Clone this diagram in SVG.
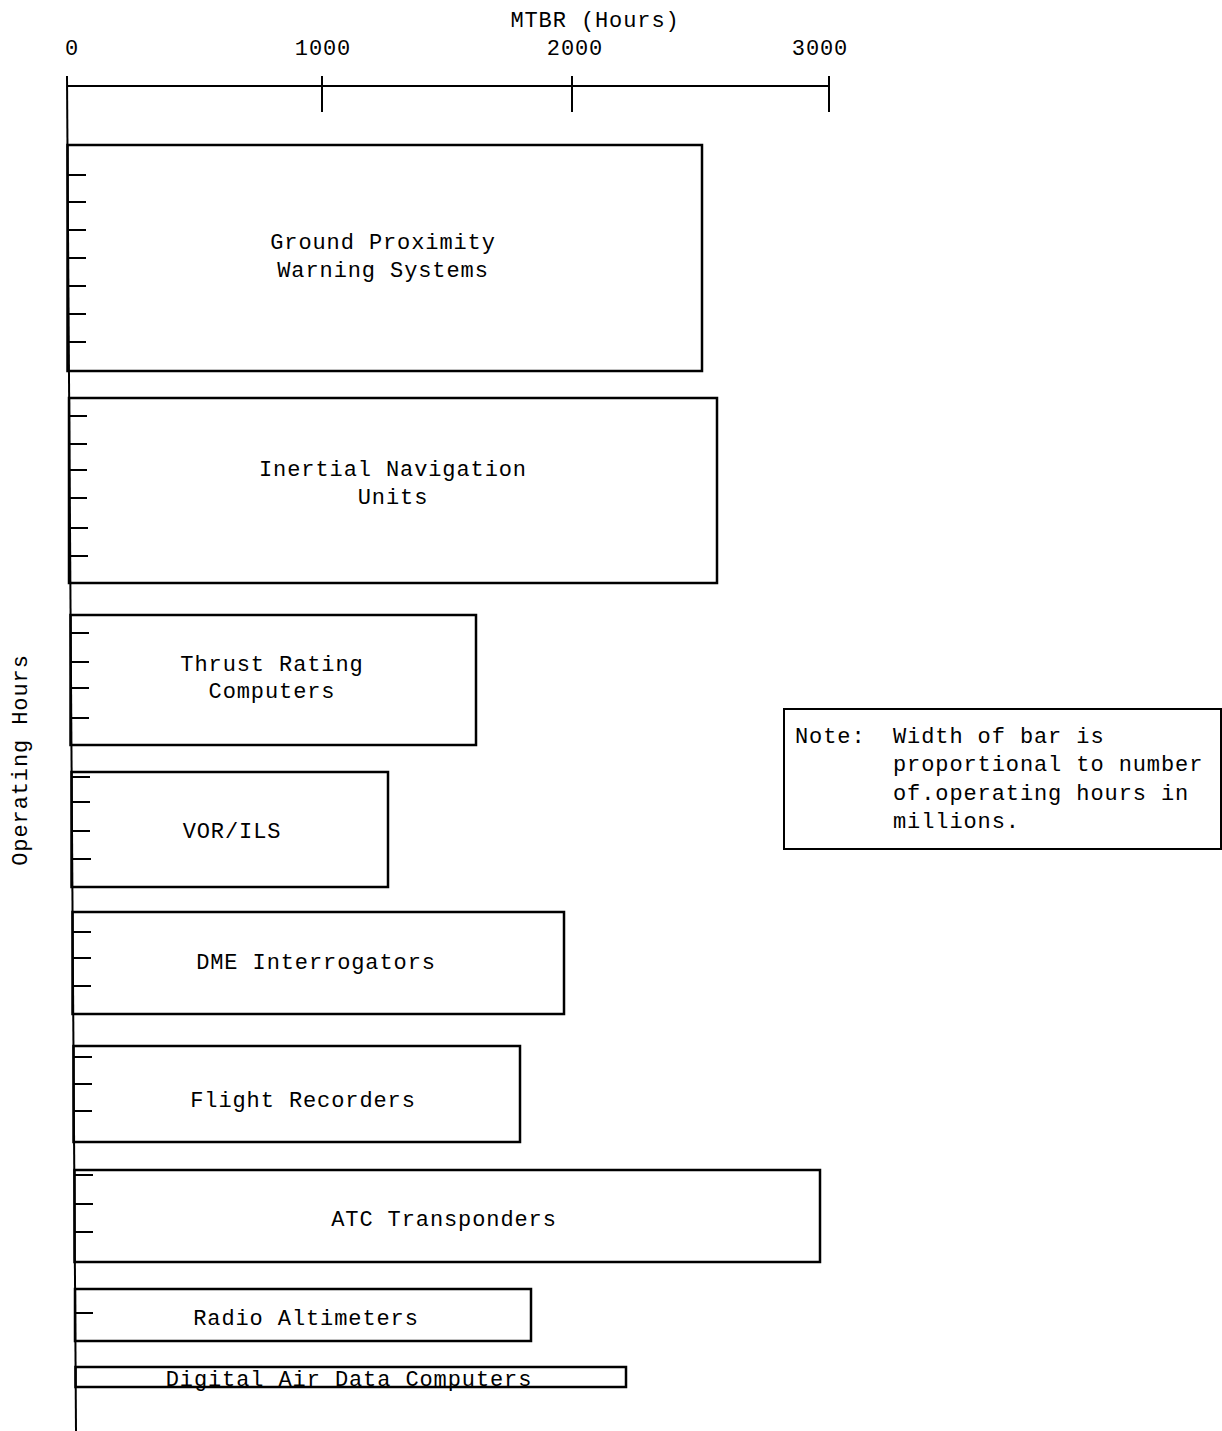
<svg xmlns="http://www.w3.org/2000/svg" width="1222" height="1431" viewBox="0 0 1222 1431">
<style>
text{font-family:"Liberation Mono","Courier New",monospace;font-size:22px;letter-spacing:0.9px;fill:#000}
.c{text-anchor:middle}
.bar{fill:none;stroke:#000;stroke-width:2.5}
.ax{stroke:#000;stroke-width:2;fill:none}
.tk{stroke:#000;stroke-width:2}
</style>
<rect width="1222" height="1431" fill="#fff"/>
<g id="axis">
<text class="c" x="595" y="27">MTBR (Hours)</text>
<text class="c" x="72" y="55">0</text>
<text class="c" x="323" y="55">1000</text>
<text class="c" x="575" y="55">2000</text>
<text class="c" x="820" y="55">3000</text>
<line class="ax" x1="67" y1="86" x2="829" y2="86"/>
<line class="ax" x1="322" y1="76" x2="322" y2="112"/>
<line class="ax" x1="572" y1="76" x2="572" y2="112"/>
<line class="ax" x1="829" y1="76" x2="829" y2="112"/>
<line class="ax" x1="67" y1="76" x2="76" y2="1431"/>
<text class="c" transform="translate(27,760) rotate(-90)">Operating Hours</text>
</g>
<g id="connectors"></g>
<g id="bar-gpws">
<rect class="bar" x="67.5" y="145" width="634.5" height="226"/>
<path class="tk" d="M68 175h18M68 202h18M68 230h18M68 258h18M68 286h18M68 314h18M68 342h18"/>
<text class="c" x="383" y="249">Ground Proximity</text>
<text class="c" x="383" y="277">Warning Systems</text>
</g>
<g id="bar-inu">
<rect class="bar" x="69" y="398" width="648" height="185"/>
<path class="tk" d="M69 416h18M69 444h18M69 470h18M69 498h18M70 528h18M70 556h18"/>
<text class="c" x="393" y="476">Inertial Navigation</text>
<text class="c" x="393" y="504">Units</text>
</g>
<g id="bar-trc">
<rect class="bar" x="70.5" y="615" width="405.5" height="130"/>
<path class="tk" d="M71 633h18M71 662h18M71 688h18M71 718h18"/>
<text class="c" x="272" y="671">Thrust Rating</text>
<text class="c" x="272" y="698">Computers</text>
</g>
<g id="bar-vor">
<rect class="bar" x="71.5" y="772" width="316.5" height="115"/>
<path class="tk" d="M72 777h18M72 802h18M72 831h18M73 859h18"/>
<text class="c" x="232" y="838">VOR/ILS</text>
</g>
<g id="bar-dme">
<rect class="bar" x="72.5" y="912" width="491.5" height="102"/>
<path class="tk" d="M73 932h18M73 958h18M73 986h18"/>
<text class="c" x="316" y="969">DME Interrogators</text>
</g>
<g id="bar-fr">
<rect class="bar" x="73.5" y="1046" width="446.5" height="96"/>
<path class="tk" d="M74 1057h18M74 1084h18M74 1111h18"/>
<text class="c" x="303" y="1107">Flight Recorders</text>
</g>
<g id="bar-atc">
<rect class="bar" x="74.5" y="1170" width="745.5" height="92"/>
<path class="tk" d="M75 1175h18M75 1204h18M75 1232h18"/>
<text class="c" x="444" y="1226">ATC Transponders</text>
</g>
<g id="bar-ra">
<rect class="bar" x="75" y="1289" width="456" height="52"/>
<path class="tk" d="M75 1313h18"/>
<text class="c" x="306" y="1325">Radio Altimeters</text>
</g>
<g id="bar-dadc">
<text class="c" x="349" y="1386">Digital Air Data Computers</text>
<rect class="bar" x="75.5" y="1367" width="550.5" height="20"/>
</g>
<g id="note">
<rect x="784" y="709" width="437" height="140" fill="none" stroke="#000" stroke-width="2"/>
<text x="795" y="743">Note:</text>
<text x="893" y="743">Width of bar is</text>
<text x="893" y="771">proportional to number</text>
<text x="893" y="800">of.operating hours in</text>
<text x="893" y="828">millions.</text>
</g>
</svg>
